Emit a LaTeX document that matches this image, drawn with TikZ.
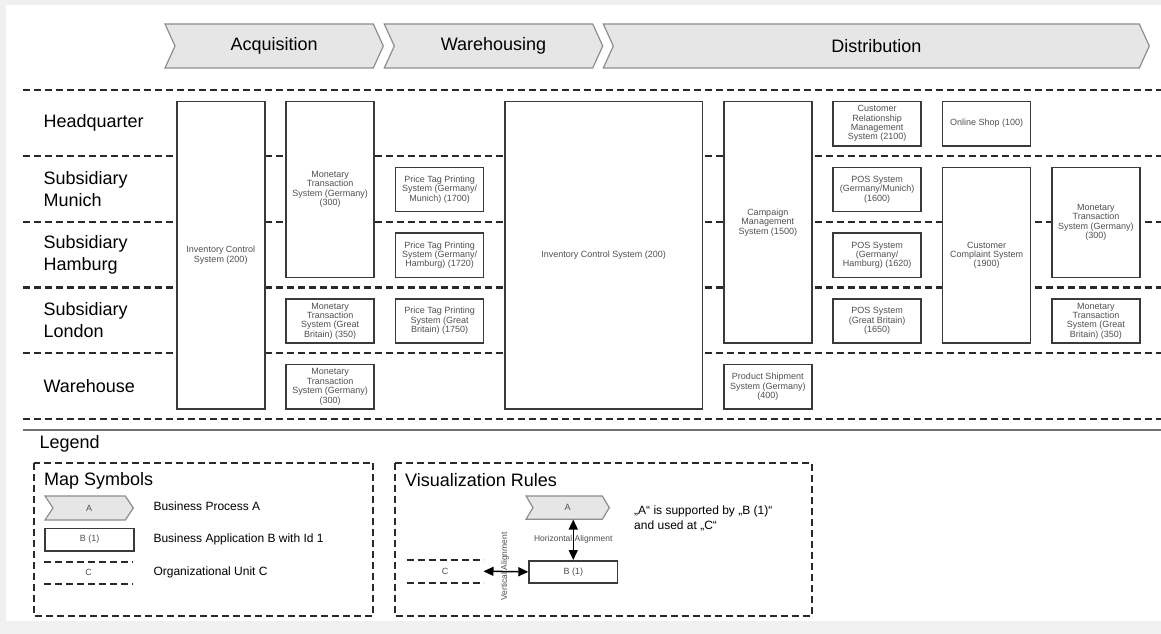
\documentclass[tikz,border=0pt]{standalone}
\usepackage{fontspec}
\setmainfont{Liberation Sans}
\usetikzlibrary{arrows.meta}

\definecolor{pagebg}{HTML}{F0F0F0}
\definecolor{procfill}{HTML}{E6E6E6}
\definecolor{procline}{HTML}{8E8E8E}
\definecolor{appline}{HTML}{3A3A3A}
\definecolor{apptext}{HTML}{505050}
\definecolor{unitline}{HTML}{2A2A2A}
\definecolor{sepline}{HTML}{707070}

% process chevron: x1, x2, ytop, ybottom, depth
\newcommand{\procshape}[5]{%
  \draw[proc] (#1,#3) -- ({#2-#5},#3) -- (#2,{(#3+#4)/2}) -- ({#2-#5},#4)
    -- (#1,#4) -- ({#1+#5},{(#3+#4)/2}) -- cycle;}

\begin{document}
\begin{tikzpicture}[x=1pt,y=-1pt,
  proc/.style={fill=procfill,draw=procline,line width=1.2pt},
  proctitle/.style={font=\fontsize{18}{20}\selectfont},
  unit/.style={draw=unitline,line width=2.2pt,dash pattern=on 7pt off 4pt},
  lane/.style={anchor=west,align=left,font=\fontsize{18}{22}\selectfont},
  app/.style={draw=appline,line width=1.5pt,fill=white,anchor=north west,
    minimum width=88pt,inner sep=0pt,align=center,text=apptext,
    font=\fontsize{9}{9.4}\selectfont},
  span/.style={minimum height={#1*65.8pt-21.5pt}},
  legframe/.style={draw=unitline,line width=2pt,dash pattern=on 7pt off 4pt},
  legtitle/.style={anchor=west,font=\fontsize{18}{20}\selectfont},
  item/.style={anchor=west,align=left,font=\fontsize{12}{15.3}\selectfont},
  symbol/.style={inner sep=0pt,text=apptext,font=\fontsize{9}{10}\selectfont},
  alignlbl/.style={inner sep=0pt,text=apptext,font=\fontsize{8.5}{9}\selectfont},
  alignarrow/.style={line width=1.5pt,
    {Triangle[length=10pt,width=9pt]}-{Triangle[length=10pt,width=9pt]}}]
\useasboundingbox (0,0) rectangle (1161,634);
\fill[pagebg] (0,0) rectangle (1161,634);
\fill[white] (6,5) rectangle (1161,621);

% processes
\procshape{165}{383.3}{24}{68}{10}
\node[proctitle] (acq) at (274.2,46) {Acquisition};
\procshape{384.3}{602.7}{24}{68}{10}
\node[proctitle] (ware) at (493.5,46) {Warehousing};
\procshape{603.3}{1149.3}{24}{68}{10}
\node[proctitle] (dist) at (876.3,46) {Distribution};

% organizational units
\foreach \y in {90,155.8,221.6,287.4,353.2,419}
  \draw[unit] (22.7,\y) -- (1161,\y);
\node[lane] (hq) at (40,122.9) {Headquarter};
\node[lane] (muc) at (40,188.7) {Subsidiary\\Munich};
\node[lane] (ham) at (40,254.5) {Subsidiary\\Hamburg};
\node[lane] (lon) at (40,320.3) {Subsidiary\\London};
\node[lane] (wh) at (40,386.1) {Warehouse};

% acquisition
\node[app,span=5] (ics) at (176,100.7) {Inventory Control\\System (200)};
\node[app,span=3] (mtsde) at (285.4,100.7) {Monetary\\Transaction\\System (Germany)\\(300)};
\node[app,span=1] (mtsgb) at (285.4,298.1) {Monetary\\Transaction\\System (Great\\Britain) (350)};
\node[app,span=1] (mtswh) at (285.4,363.9) {Monetary\\Transaction\\System (Germany)\\(300)};

% warehousing
\node[app,span=1] (ptpmuc) at (394.8,166.5) {Price Tag Printing\\System (Germany/\\Munich) (1700)};
\node[app,span=1] (ptpham) at (394.8,232.3) {Price Tag Printing\\System (Germany/\\Hamburg) (1720)};
\node[app,span=1] (ptpgb) at (394.8,298.1) {Price Tag Printing\\System (Great\\Britain) (1750)};
\node[app,span=5,minimum width=197.4pt] (icswh) at (504.2,100.7) {Inventory Control System (200)};

% distribution
\node[app,span=4] (cms) at (723,100.7) {Campaign\\Management\\System (1500)};
\node[app,span=1] (pss) at (723,363.9) {Product Shipment\\System (Germany)\\(400)};
\node[app,span=1] (crm) at (832.4,100.7) {Customer\\Relationship\\Management\\System (2100)};
\node[app,span=1] (posmuc) at (832.4,166.5) {POS System\\(Germany/Munich)\\(1600)};
\node[app,span=1] (posham) at (832.4,232.3) {POS System\\(Germany/\\Hamburg) (1620)};
\node[app,span=1] (posgb) at (832.4,298.1) {POS System\\(Great Britain)\\(1650)};
\node[app,span=1] (shop) at (941.8,100.7) {Online Shop (100)};
\node[app,span=3] (ccs) at (941.8,166.5) {Customer\\Complaint System\\(1900)};
\node[app,span=2] (mtsde2) at (1051.2,166.5) {Monetary\\Transaction\\System (Germany)\\(300)};
\node[app,span=1] (mtsgb2) at (1051.2,298.1) {Monetary\\Transaction\\System (Great\\Britain) (350)};

% legend
\draw[sepline,line width=1.6pt] (22.7,430) -- (1161,430);
\node[legtitle] (legend) at (36,444.3) {Legend};

% map symbols
\draw[legframe] (34.3,462.7) rectangle (373.3,616);
\node[legtitle] (mapsym) at (40.7,481) {Map Symbols};
\procshape{45}{133.3}{496}{520}{8}
\node[symbol] (symA) at (89.2,508) {A};
\node[app,minimum width=89pt,minimum height=22.3pt,font=\fontsize{9}{10}\selectfont] (symB) at (44.3,527.7) {B (1)};
\node[symbol,minimum width=89pt,minimum height=21.6pt] (symC) at (88.7,572.5) {C};
\draw[unit,line width=2pt] (symC.north west) -- (symC.north east);
\draw[unit,line width=2pt] (symC.south west) -- (symC.south east);
\node[item] (txtA) at (150,506.7) {Business Process A};
\node[item] (txtB) at (150,539.3) {Business Application B with Id 1};
\node[item] (txtC) at (150,572.7) {Organizational Unit C};

% visualization rules
\draw[legframe] (395,462.7) rectangle (811.7,616);
\node[legtitle] (rules) at (401.7,480) {Visualization Rules};
\procshape{526}{609.3}{496}{519.3}{7}
\node[symbol,minimum width=83pt,minimum height=23.3pt] (ruleA) at (567.7,507.7) {A};
\node[app,minimum width=88.4pt,minimum height=22.3pt,font=\fontsize{9}{10}\selectfont] (ruleB) at (528.3,560) {B (1)};
\node[symbol,minimum width=76.6pt,minimum height=22.3pt] (ruleC) at (445,571.2) {C};
\draw[unit,line width=2pt] (ruleC.north west) -- (ruleC.north east);
\draw[unit,line width=2pt] (ruleC.south west) -- (ruleC.south east);
\draw[alignarrow] (ruleB.north |- ruleA.south) -- node[alignlbl] {Horizontal Alignment} (ruleB.north);
\draw[alignarrow] (ruleB.west) -- node[alignlbl,rotate=90,yshift=1pt,xshift=5pt] {Vertical Alignment} (ruleC.east);
\node[item] (ruletxt) at (630.7,518.4) {„A“ is supported by „B (1)“\\and used at „C“};
\end{tikzpicture}
\end{document}
